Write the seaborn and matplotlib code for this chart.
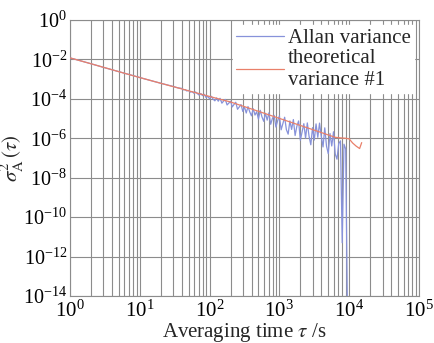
import numpy as np
import pandas as pd
import matplotlib
matplotlib.use("Agg")
import matplotlib.pyplot as plt
import matplotlib.ticker as mticker
import seaborn as sns

# ---- data ----
allan_tau = [1, 2, 3, 5, 8, 12, 20, 30, 35,
             40, 42, 45, 47, 50, 53, 56, 60, 63, 67, 71, 75, 79, 84, 89, 94,
             100, 106, 112, 119, 126, 133, 141, 150, 158, 168, 178, 188,
             200, 211, 224, 237, 251, 266, 282, 299, 316, 335, 355, 376,
             398, 422, 447, 473, 501, 531, 562, 596, 631, 668, 708, 750,
             794, 841, 891, 944, 1000, 1059, 1122, 1189, 1259, 1334, 1413, 1496,
             1585, 1679, 1778, 1884, 1995, 2113, 2239, 2371, 2512, 2661, 2818, 2985,
             3162, 3350, 3548, 3758, 3981, 4217, 4467, 4732, 5012, 5309, 5623, 5957,
             6310, 6683, 7079, 7499, 7943, 8414, 8913, 9441]
allan_var = [1.20e-2, 6.03e-3, 3.98e-3, 2.40e-3, 1.51e-3, 1.01e-3, 6.17e-4, 4.27e-4, 3.63e-4,
             3.39e-4, 2.88e-4, 2.95e-4, 2.51e-4, 2.69e-4, 2.19e-4, 2.34e-4, 1.91e-4, 2.24e-4, 1.82e-4, 1.55e-4, 1.86e-4, 1.45e-4, 1.70e-4, 1.17e-4, 1.35e-4,
             1.00e-4, 1.35e-4, 9.77e-5, 7.94e-5, 1.12e-4, 7.59e-5, 1.07e-4, 6.03e-5, 7.59e-5, 9.33e-5, 4.90e-5, 6.03e-5,
             7.59e-5, 3.89e-5, 5.25e-5, 6.76e-5, 2.95e-5, 3.89e-5, 5.13e-5, 2.29e-5, 3.89e-5, 1.91e-5, 4.07e-5, 2.19e-5,
             1.38e-5, 3.16e-5, 1.51e-5, 2.24e-5, 9.33e-6, 2.63e-5, 1.23e-5, 7.24e-6, 1.86e-5, 8.32e-6, 1.95e-5, 5.13e-6,
             1.02e-5, 1.45e-5, 3.72e-6, 7.76e-6, 1.35e-5, 2.69e-6, 5.62e-6, 1.17e-5, 2.75e-6, 1.62e-6, 7.59e-6, 2.82e-6,
             8.91e-6, 1.38e-6, 4.07e-6, 7.59e-6, 7.94e-7, 2.09e-6, 5.50e-6, 1.02e-6, 6.03e-6, 1.26e-6, 4.68e-7, 3.47e-6,
             8.13e-7, 5.37e-6, 1.12e-6, 5.89e-6, 1.23e-6, 3.63e-7, 3.39e-6, 3.98e-7, 1.66e-7, 1.74e-6, 4.07e-7, 2.14e-6,
             1.58e-7, 8.71e-8, 5.37e-7, 7.41e-7, 5.01e-12, 5.01e-7, 2.82e-7, 1.0e-15]

theory_tau = [1, 2, 5, 10, 20, 50, 100, 200, 500, 1000, 2000, 3000, 4000,
              5000, 6300, 7500, 8900, 10000, 11200, 12600, 14100, 15100]
theory_var = [1.20e-2, 6.03e-3, 2.40e-3, 1.20e-3, 6.17e-4, 2.57e-4, 1.32e-4, 6.92e-5,
              2.34e-5, 1.02e-5, 4.47e-6, 2.75e-6, 1.95e-6, 1.48e-6, 1.12e-6, 1.05e-6,
              1.00e-6, 9.33e-7, 5.75e-7, 3.98e-7, 3.02e-7, 6.03e-7]

series_names = ["Allan variance", "theoretical\nvariance #1"]
x_ticks = [1e0, 1e1, 1e2, 1e3, 1e4, 1e5]
y_ticks = [1e-14, 1e-12, 1e-10, 1e-8, 1e-6, 1e-4, 1e-2, 1e0]

df_allan = pd.DataFrame({"tau": allan_tau, "var": allan_var})
df_theory = pd.DataFrame({"tau": theory_tau, "var": theory_var})

# ---- style ----
sns.set_theme(style="white")
plt.rcParams["font.family"] = ["Liberation Serif", "DejaVu Serif"]
plt.rcParams["mathtext.fontset"] = "stix"

fig = plt.figure(figsize=(4.34, 3.43), dpi=100)
ax = fig.add_axes([70 / 434, 1 - 296 / 343, 349 / 434, 276 / 343])

grid_c = "#8c8c8c"
sns.lineplot(data=df_allan, x="tau", y="var", ax=ax, color="#8792da",
             linewidth=0.9, sort=False, estimator=None, label=series_names[0], zorder=3)
sns.lineplot(data=df_theory, x="tau", y="var", ax=ax, color="#e9806a",
             linewidth=0.9, sort=False, estimator=None, label=series_names[1], zorder=4)

ax.set_xscale("log")
ax.set_yscale("log")
ax.set_xlim(1e0, 1e5)
ax.set_ylim(1e-14, 1e0)
ax.set_xticks(x_ticks)
ax.set_yticks(y_ticks)
ax.xaxis.set_minor_locator(mticker.LogLocator(base=10, subs=np.arange(2, 10), numticks=20))
ax.xaxis.set_minor_formatter(mticker.NullFormatter())
ax.yaxis.set_minor_locator(mticker.NullLocator())

ax.grid(True, which="major", axis="both", color=grid_c, linewidth=0.8)
ax.grid(True, which="minor", axis="x", color=grid_c, linewidth=0.8)
ax.set_axisbelow(True)
for s in ax.spines.values():
    s.set_color(grid_c)
    s.set_linewidth(0.8)

ax.tick_params(axis="both", which="both", length=0, colors="black")
ax.tick_params(axis="x", labelsize=15, pad=3)
ax.tick_params(axis="y", labelsize=14.5, pad=2)

ax.set_xlabel(r"Averaging time $\tau$ /s", fontsize=15, labelpad=0)
ax.set_ylabel(r"$\sigma_{\mathrm{A}}^{2}\,(\tau)$", fontsize=15)
ax.yaxis.set_label_coords(-0.125, 0.5)

leg = ax.legend(loc="upper right", fontsize=15, frameon=True, framealpha=1,
                facecolor="white", edgecolor="white", fancybox=False,
                handlelength=2.3, handletextpad=0.2, borderpad=0.15,
                borderaxespad=0.25, labelspacing=0.05)

fig.savefig("out.png", dpi=100, facecolor="white")
